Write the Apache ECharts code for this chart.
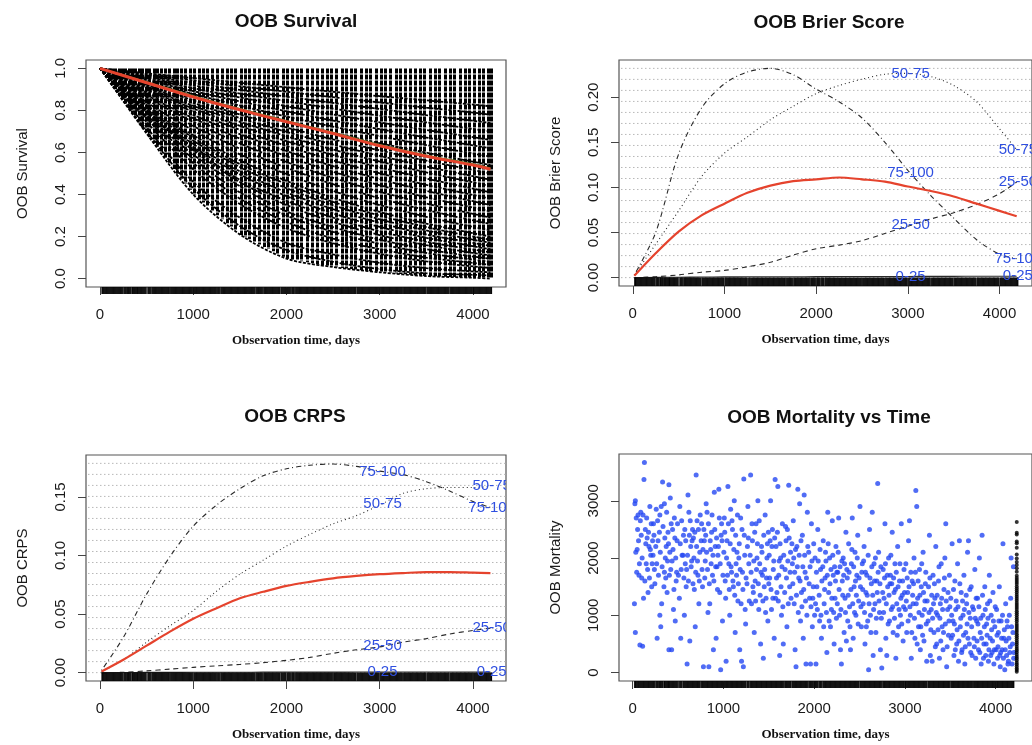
<!DOCTYPE html>
<html><head><meta charset="utf-8">
<script src="https://cdn.jsdelivr.net/npm/echarts@6/dist/echarts.min.js"></script>
<style>html,body{margin:0;padding:0;background:#fff}#c{width:1032px;height:745px}</style>
</head><body><div id="c"></div>
<script>
// ---------- tick labels ----------
const xTicks = [0, 1000, 2000, 3000, 4000];
const survYTicks = [0, 0.2, 0.4, 0.6, 0.8, 1.0];
const brierYTicks = [0, 0.05, 0.10, 0.15, 0.20];
const crpsYTicks = [0, 0.05, 0.10, 0.15];
const mortYTicks = [0, 1000, 2000, 3000];
const quartileNames = ['0-25', '25-50', '50-75', '75-100'];
const labelTimes = [3030, 4200];

// ---------- OOB survival ----------
const survT = [0, 500, 1000, 1500, 2000, 2500, 3000, 3500, 4000, 4187];
const survCurves = [
  [1, .977, .954, .932, .910, .889, .868, .848, .828, .82],
  [1, .971, .943, .915, .889, .863, .838, .813, .790, .78],
  [1, .965, .931, .898, .866, .836, .807, .778, .751, .74],
  [1, .958, .919, .880, .844, .809, .775, .743, .712, .70],
  [1, .952, .906, .862, .820, .781, .743, .707, .673, .66],
  [1, .945, .892, .843, .796, .752, .711, .671, .634, .62],
  [1, .937, .878, .823, .771, .723, .678, .635, .595, .58],
  [1, .929, .864, .803, .746, .693, .644, .599, .556, .54],
  [1, .921, .848, .781, .719, .662, .610, .561, .517, .50],
  [1, .914, .836, .764, .698, .638, .584, .533, .487, .47],
  [1, .907, .822, .746, .677, .614, .557, .505, .458, .44],
  [1, .899, .809, .727, .654, .588, .529, .476, .428, .41],
  [1, .891, .794, .708, .631, .562, .501, .446, .398, .38],
  [1, .883, .779, .687, .607, .535, .473, .417, .368, .35],
  [1, .873, .763, .666, .582, .508, .444, .387, .338, .32],
  [1, .863, .745, .643, .555, .479, .413, .357, .308, .29],
  [1, .852, .726, .618, .527, .449, .382, .326, .277, .26],
  [1, .839, .705, .591, .497, .417, .350, .294, .246, .23],
  [1, .826, .682, .563, .465, .384, .317, .262, .216, .20],
  [1, .82, .67, .545, .45, .365, .30, .245, .20, .185],
  [1, .810, .656, .531, .430, .349, .282, .229, .185, .17],
  [1, .80, .64, .51, .41, .33, .265, .21, .17, .155],
  [1, .791, .627, .496, .392, .310, .246, .194, .154, .14],
  [1, .80, .62, .47, .37, .29, .225, .175, .138, .125],
  [1, .79, .61, .46, .35, .27, .207, .159, .122, .11],
  [1, .78, .59, .44, .32, .245, .185, .14, .105, .095],
  [1, .77, .57, .41, .30, .222, .165, .122, .090, .08],
  [1, .76, .55, .38, .27, .19, .14, .10, .075, .065],
  [1, .745, .52, .355, .24, .168, .118, .082, .058, .05],
  [1, .72, .46, .29, .17, .115, .075, .05, .034, .03],
  [1, .70, .43, .25, .135, .08, .045, .025, .018, .015],
  [1, .69, .40, .21, .095, .055, .03, .012, .004, 0]
];
const survMean = [1.0, 0.932, 0.864, 0.803, 0.746, 0.69, 0.632, 0.582, 0.54, 0.52];
const survKM   = [1.0, 0.936, 0.869, 0.808, 0.751, 0.695, 0.637, 0.587, 0.545, 0.525];
const stripeTimes = [95,130,160,200,235,270,310,340,380,420,455,490,530,575,610,650,700,740,790,830,870,910,960,1010,1060,1100,1150,1200,1260,1310,1360,1400,1450,1510,1560,1600,1650,1710,1760,1800,1850,1900,1960,2010,2060,2110,2160,2220,2270,2330,2380,2430,2480,2530,2590,2640,2690,2740,2800,2850,2900,2960,3010,3060,3110,3170,3220,3270,3320,3380,3430,3480,3540,3590,3640,3700,3750,3800,3860,3910,3960,4010,4060,4110,4160,4190];

// ---------- Brier / CRPS ----------
const scoreT = [17, 250, 500, 750, 1000, 1250, 1500, 1750, 2000, 2250, 2500, 2750, 3000, 3250, 3500, 3750, 4000, 4187];
const brierAll   = [0.002, 0.027, 0.051, 0.069, 0.082, 0.094, 0.102, 0.107, 0.109, 0.111, 0.109, 0.1065, 0.101, 0.096, 0.090, 0.082, 0.074, 0.068];
const brier0_25  = [0.0, 0.0003, 0.0005, 0.0007, 0.0008, 0.0009, 0.001, 0.001, 0.0011, 0.0012, 0.0012, 0.0013, 0.0013, 0.0014, 0.0014, 0.0015, 0.0015, 0.0016];
const brier25_50 = [0.0, 0.001, 0.003, 0.006, 0.008, 0.012, 0.017, 0.025, 0.032, 0.036, 0.041, 0.049, 0.057, 0.065, 0.072, 0.081, 0.093, 0.106];
const brier50_75 = [0.003, 0.037, 0.074, 0.112, 0.138, 0.156, 0.175, 0.190, 0.204, 0.213, 0.220, 0.2255, 0.2265, 0.223, 0.213, 0.195, 0.165, 0.142];
const brier75_100= [0.003, 0.050, 0.137, 0.188, 0.215, 0.228, 0.232, 0.225, 0.209, 0.195, 0.177, 0.150, 0.119, 0.091, 0.066, 0.042, 0.026, 0.021];
const brierMax = 0.232;

const crpsAll    = [0.001, 0.011, 0.023, 0.035, 0.046, 0.055, 0.0635, 0.069, 0.074, 0.0775, 0.0805, 0.0825, 0.084, 0.085, 0.0858, 0.0858, 0.0853, 0.0849];
const crps0_25   = [0.0, 0.0001, 0.0002, 0.0002, 0.0003, 0.0003, 0.0003, 0.0004, 0.0004, 0.0004, 0.0004, 0.0005, 0.0005, 0.0005, 0.0005, 0.0005, 0.0006, 0.0006];
const crps25_50  = [0.0, 0.0003, 0.0015, 0.003, 0.0045, 0.0058, 0.007, 0.0085, 0.0105, 0.013, 0.0165, 0.0195, 0.022, 0.026, 0.029, 0.033, 0.036, 0.038];
const crps50_75  = [0.001, 0.011, 0.026, 0.040, 0.053, 0.0695, 0.084, 0.096, 0.108, 0.118, 0.127, 0.134, 0.143, 0.153, 0.157, 0.158, 0.158, 0.159];
const crps75_100 = [0.002, 0.030, 0.067, 0.099, 0.125, 0.143, 0.157, 0.168, 0.174, 0.177, 0.178, 0.176, 0.172, 0.169, 0.163, 0.155, 0.146, 0.141];
const crpsMax = 0.1786;

// ---------- OOB mortality ----------
const mortPoints = [
[30,3000],[25,2950],[40,2700],[20,1200],[30,700],[80,480],[110,460],[130,3670],[125,3370],[60,2750],[90,2800],[140,2500],[160,2350],[180,2200],[200,2050],[70,1700],[100,1650],[150,1900],[210,1500],[230,2600],[190,2900],[50,2150],[120,1300],[170,1400],[240,1800],[220,2300],
[260,2850],[280,2300],[300,2750],[330,3330],[350,2950],[370,2200],[400,3280],[410,2100],[420,1800],[440,2500],[460,2700],[480,1600],[300,1000],[320,1200],[350,1750],[380,1400],[400,400],[430,400],[450,1100],[470,900],[490,2300],[270,600],[310,800],[360,2000],[390,2450],[415,3050],
[520,2900],[540,2650],[560,2400],[580,1900],[600,150],[610,3100],[620,2800],[640,2200],[660,2500],[680,1450],[700,3450],[710,2650],[720,1700],[740,2100],[515,1300],[530,600],[570,1000],[590,1500],[630,550],[650,1950],[670,2350],[690,800],[730,1200],[745,2750],[555,2050],
[760,2600],[780,100],[790,2300],[800,1950],[820,2800],[840,100],[850,1200],[870,2450],[880,1700],[900,3150],[910,2200],[920,600],[940,2050],[950,3200],[960,1400],[970,50],[980,2600],[990,900],[770,1500],[810,2950],[830,1050],[860,2150],[890,400],[930,1850],[975,2400],
[1010,2700],[1020,1600],[1030,200],[1040,2300],[1050,3250],[1060,1900],[1070,1000],[1080,2850],[1100,2500],[1110,1500],[1120,3000],[1130,700],[1150,2100],[1160,1250],[1170,2000],[1180,400],[1190,2700],[1200,200],[1210,1750],[1220,100],[1225,3380],[1230,2400],[1240,1100],[1245,850],[1090,1750],[1140,1900],
[1260,1550],[1270,2900],[1280,1900],[1300,3450],[1310,1200],[1320,2300],[1340,700],[1350,1600],[1360,2600],[1380,3000],[1390,1100],[1400,1900],[1410,500],[1420,2200],[1440,250],[1450,1500],[1460,2750],[1470,1300],[1480,2000],[1490,900],[1265,2200],[1330,1400],[1370,2000],[1430,1700],[1495,2450],
[1510,1650],[1520,3000],[1530,1100],[1540,2500],[1550,1800],[1560,600],[1570,3370],[1580,2200],[1590,1400],[1600,3250],[1610,1700],[1620,300],[1630,2000],[1640,1000],[1650,2600],[1660,500],[1680,1800],[1690,2300],[1700,800],[1720,3270],[1730,1500],[1740,2100],[1515,2300],[1575,1300],[1705,2500],
[1760,1900],[1770,2650],[1780,1200],[1790,400],[1800,100],[1810,2200],[1820,3200],[1830,1650],[1840,2950],[1850,900],[1860,1400],[1870,2400],[1880,600],[1890,3100],[1900,1750],[1910,150],[1920,1000],[1940,2100],[1950,1300],[1960,150],[1970,2600],[1980,800],[1990,1500],[1775,2000],[1925,2800],
[2005,1000],[2010,2000],[2020,150],[2030,1500],[2040,2500],[2060,900],[2070,1800],[2080,600],[2100,2300],[2110,1200],[2120,1650],[2140,350],[2150,2800],[2160,1400],[2170,2000],[2180,800],[2190,1100],[2200,2650],[2210,1700],[2220,500],[2230,1300],[2240,2200],[2245,950],[2015,1200],[2125,2100],
[2260,1750],[2270,2700],[2280,1000],[2290,400],[2300,150],[2310,1600],[2320,2000],[2330,700],[2340,1300],[2350,2450],[2360,1800],[2370,900],[2380,2250],[2390,1150],[2400,400],[2410,1900],[2420,2700],[2430,600],[2440,1500],[2450,2100],[2460,1000],[2470,1700],[2480,2400],[2490,1250],[2355,550],
[2505,2900],[2510,1500],[2520,800],[2530,1900],[2540,1200],[2550,2200],[2560,500],[2570,1400],[2580,1700],[2590,900],[2600,50],[2610,2500],[2620,1000],[2630,1550],[2640,2800],[2650,300],[2660,1900],[2670,1200],[2680,700],[2690,1600],[2700,3300],[2710,2100],[2720,1050],[2730,400],[2745,80],
[2760,1800],[2770,1300],[2780,2600],[2790,600],[2800,300],[2810,1500],[2820,2000],[2830,900],[2840,1700],[2850,1100],[2860,2450],[2870,700],[2880,1400],[2890,1900],[2900,250],[2910,1200],[2920,2200],[2930,800],[2940,1600],[2950,1000],[2960,2600],[2970,1350],[2980,550],[2990,1800],[2855,1550],
[3005,1100],[3010,1900],[3020,700],[3030,1400],[3040,2300],[3050,2650],[3060,1000],[3070,250],[3080,1600],[3090,1200],[3100,2000],[3110,600],[3120,3180],[3130,2900],[3140,1300],[3150,800],[3160,1800],[3170,400],[3180,1500],[3190,1000],[3200,2100],[3210,550],[3220,1250],[3230,1750],[3240,200],
[3255,900],[3260,1500],[3270,2400],[3280,300],[3290,1100],[3300,200],[3310,1700],[3320,700],[3330,1300],[3340,2200],[3350,500],[3360,1000],[3370,1600],[3380,250],[3390,1200],[3400,1900],[3410,800],[3420,400],[3430,1450],[3440,2000],[3450,2600],[3460,100],[3470,1100],[3480,650],[3490,1700],
[3505,1300],[3510,600],[3520,2250],[3530,900],[3540,300],[3550,1600],[3560,1100],[3570,500],[3580,1900],[3590,200],[3600,2300],[3610,800],[3620,1400],[3630,400],[3640,1000],[3650,1700],[3660,150],[3670,700],[3680,1200],[3690,2100],[3700,2300],[3710,500],[3720,950],[3730,1500],[3740,300],
[3755,1100],[3760,600],[3770,1800],[3780,250],[3790,900],[3800,1300],[3810,400],[3820,2000],[3830,700],[3840,150],[3850,2400],[3860,1000],[3870,500],[3880,1500],[3890,300],[3900,850],[3910,1200],[3920,200],[3930,1700],[3940,600],[3950,1000],[3960,350],[3970,1400],[3980,150],[3990,800],
[4005,400],[4010,1100],[4020,250],[4030,700],[4040,1500],[4050,100],[4060,900],[4070,400],[4080,2250],[4090,600],[4100,50],[4110,1200],[4120,300],[4130,800],[4140,200],[4150,1000],[4160,450],[4170,2000],[4180,150],[4190,700],[4200,350],[4045,300],[4115,550],[4165,1300],[4195,1850],
[35,2100],[45,1750],[55,2500],[65,2300],[75,1900],[85,2650],[95,2400],[105,2000],[115,2750],[135,1600],[145,2250],[155,2700],[165,1800],[175,2450],[185,1650],[195,2150],[205,2600],[215,1900],[225,2050],[235,2400],[245,1550],[255,2200],[265,1900],[275,2650],[285,1700],[295,2450],[305,2100],[315,2900],[325,1850],[335,2550],[345,1500],[355,2350],[365,1650],[375,2800],[385,1950],[395,2250],[405,1700],[425,2600],[435,1950],[445,2150],[455,1450],[465,2350],[475,2000],[485,1750],[495,2600],
[505,1700],[525,2250],[535,1800],[545,2050],[565,1650],[575,2500],[585,2300],[595,1800],[605,2050],[615,1600],[625,2400],[635,2650],[645,1850],[655,2300],[665,1550],[675,2000],[685,2450],[695,1750],[705,2200],[715,1950],[725,2500],[735,1600],[755,2300],[765,1800],[775,2150],[785,2500],[795,1650],[805,2400],[815,2100],[825,1800],[835,2600],[845,1550],[855,2300],[865,1900],[875,2750],[885,2050],[895,1600],[905,2500],[915,1850],[925,2350],[935,1450],[945,2200],[955,2700],[965,1900],[985,2300],[995,1700],
[1005,2100],[1015,2450],[1025,1300],[1035,2000],[1045,1700],[1055,2600],[1065,1450],[1075,2250],[1085,1850],[1095,2650],[1105,1600],[1115,2150],[1125,1350],[1135,2400],[1145,1700],[1155,2750],[1165,1550],[1175,2250],[1185,1800],[1195,1200],[1205,2500],[1215,1450],[1235,2050],[1250,1650],[1275,2350],[1285,1250],[1295,2050],[1305,1750],[1315,2600],[1325,1500],[1335,1950],[1345,2450],[1355,1250],[1365,1800],[1375,2250],[1385,1550],[1395,2650],[1405,1350],[1415,1750],[1425,2100],[1435,1250],[1445,2400],[1455,1800],[1465,1050],[1475,1650],[1485,2250],[1500,1550],
[1505,2050],[1525,1450],[1535,2200],[1545,1300],[1555,1950],[1565,2350],[1585,1650],[1595,2450],[1605,1250],[1615,1950],[1625,2250],[1635,1500],[1645,1850],[1655,1150],[1665,2050],[1675,1400],[1685,2550],[1695,1650],[1710,1950],[1715,1200],[1725,2350],[1735,1750],[1745,1300],[1755,2250],[1765,1550],[1785,1750],[1795,2150],[1805,1350],[1815,1850],[1825,1050],[1835,2050],[1845,1600],[1855,2300],[1865,1150],[1875,1850],[1885,1450],[1895,2050],[1905,1250],[1915,1650],[1930,2200],[1945,1550],[1955,1850],[1965,1150],[1975,1950],[1985,1300],[1995,2250],
[2025,1750],[2035,1100],[2045,1950],[2055,1350],[2065,2150],[2075,1000],[2085,1600],[2095,1850],[2105,800],[2115,1450],[2130,1950],[2135,1050],[2145,1700],[2155,2250],[2165,900],[2175,1550],[2185,1800],[2195,1300],[2205,2050],[2215,1050],[2225,1850],[2235,1600],[2250,1750],[2255,1200],[2265,2100],[2275,1450],[2285,1850],[2295,1100],[2305,1950],[2315,1350],[2325,1700],[2335,1900],[2345,1050],[2365,1650],[2375,1350],[2385,1750],[2395,800],[2405,1450],[2415,2150],[2425,1200],[2435,1850],[2445,1050],[2455,1600],[2465,1350],[2475,2000],[2485,850],[2495,1650],
[2515,1150],[2525,1750],[2535,1450],[2545,1950],[2555,1050],[2565,1750],[2575,800],[2585,1350],[2595,2050],[2605,1200],[2615,1650],[2625,700],[2635,1850],[2645,1350],[2655,1100],[2665,1600],[2675,2000],[2685,950],[2695,1400],[2705,1750],[2715,1250],[2725,1550],[2735,1850],[2740,950],[2755,1400],[2765,1050],[2775,1650],[2785,1900],[2795,1200],[2805,1700],[2815,850],[2825,1350],[2835,1550],[2845,2050],[2865,1150],[2875,1650],[2885,950],[2895,1450],[2905,1750],[2915,650],[2925,1500],[2935,1100],[2945,1900],[2955,1300],[2965,850],[2975,1600],[2985,1150],[2995,1400],
[3015,1250],[3025,1650],[3035,900],[3045,1500],[3055,1150],[3065,1750],[3075,700],[3085,1350],[3095,1550],[3105,950],[3115,1750],[3125,1200],[3135,500],[3145,1600],[3155,1050],[3165,1350],[3175,800],[3185,1900],[3195,650],[3205,1400],[3215,1100],[3225,1550],[3235,850],[3245,1250],[3265,1050],[3275,1650],[3285,750],[3295,1350],[3305,950],[3315,1200],[3325,1550],[3335,450],[3345,1050],[3355,1350],[3365,750],[3375,1850],[3385,950],[3395,550],[3405,1300],[3415,1100],[3425,700],[3435,1650],[3445,850],[3455,1250],[3465,450],[3475,1400],[3485,900],[3495,1150],
[3515,1000],[3525,650],[3535,1450],[3545,850],[3555,400],[3565,1250],[3575,750],[3585,1150],[3595,550],[3605,1550],[3615,950],[3625,350],[3635,1250],[3645,650],[3655,1100],[3665,450],[3675,1350],[3685,850],[3695,600],[3705,1050],[3715,1450],[3725,350],[3735,800],[3745,1150],[3765,450],[3775,950],[3785,1300],[3795,550],[3805,850],[3815,1150],[3825,350],[3835,950],[3845,600],[3855,1350],[3865,250],[3875,800],[3885,1100],[3895,500],[3905,650],[3915,950],[3925,400],[3935,1250],[3945,300],[3955,750],[3965,550],[3975,900],[3985,400],[3995,1150],
[4015,650],[4025,450],[4035,900],[4055,350],[4065,600],[4075,1000],[4085,250],[4095,750],[4105,400],[4125,900],[4135,150],[4145,600],[4155,350],[4175,800],[4185,500],[4198,250]
];
const censorTime = 4232;
const censorMort = [15,45,70,105,140,170,210,245,275,310,350,385,415,450,490,525,560,600,635,670,710,745,780,815,850,890,925,960,1000,1035,1070,1110,1145,1180,1215,1255,1290,1325,1360,1400,1435,1470,1505,1545,1580,1615,1650,1690,1760,1820,1880,1930,1990,2060,2180,2260,2290,2410,2440,2630];

// ---------- helpers ----------
function interp(ts, vs, x) {
  if (x <= ts[0]) return vs[0];
  for (let i = 1; i < ts.length; i++) {
    if (x <= ts[i]) { const f = (x - ts[i-1]) / (ts[i] - ts[i-1]); return vs[i-1] + f * (vs[i] - vs[i-1]); }
  }
  return vs[vs.length - 1];
}
function pairs(ts, vs) { return ts.map((t, i) => [t, vs[i]]); }
function survLowAt(t) { return Math.min(...survCurves.map(c => interp(survT, c, t))); }
const obsTimes = mortPoints.map(p => p[0]);

const SANS = '"Liberation Sans", Arial, sans-serif';
const TXT = '#1a1a1a';

function xAx(gi, max) {
  return {
    type: 'value', gridIndex: gi, min: -150, max: max,
    axisLine: { show: false, onZero: false }, splitLine: { show: false },
    axisTick: { show: true, length: 8, customValues: xTicks, lineStyle: { color: '#444' } },
    axisLabel: { customValues: xTicks, margin: 20, fontSize: 15, color: TXT, fontFamily: SANS, formatter: v => String(v) },
    name: 'Observation time, days', nameLocation: 'middle', nameGap: 47,
    nameTextStyle: { fontFamily: '"Liberation Serif", serif', fontWeight: 'bold', fontSize: 13, color: '#111' }
  };
}
function yAx(gi, min, max, ticks, dec, name) {
  return {
    type: 'value', gridIndex: gi, min: min, max: max,
    axisLine: { show: false, onZero: false }, splitLine: { show: false },
    axisTick: { show: true, length: 8, customValues: ticks, lineStyle: { color: '#444' } },
    axisLabel: { customValues: ticks, rotate: 90, margin: 18, fontSize: 15, color: TXT, fontFamily: SANS,
      formatter: v => v.toFixed(dec) },
    name: name, nameLocation: 'middle', nameGap: 56, nameRotate: 90,
    nameTextStyle: { fontFamily: SANS, fontSize: 15, color: TXT }
  };
}
function rugSeries(gi, inside) {
  return {
    type: 'custom', xAxisIndex: gi, yAxisIndex: gi, clip: false, silent: true, z: 6,
    data: obsTimes.map(t => [t, 0]), encode: { x: 0, y: 1 },
    renderItem: (params, api) => {
      const cs = params.coordSys;
      const x = api.coord([api.value(0), 0])[0];
      const yb = cs.y + cs.height;
      const y1 = inside ? api.coord([0, 0])[1] : yb;
      const y2 = inside ? yb : yb + 7;
      return { type: 'line', shape: { x1: x, y1: y1, x2: x, y2: y2 }, style: { stroke: '#000', lineWidth: 0.8 } };
    }
  };
}
function gridLineSeries(gi, maxV) {
  const levels = [];
  for (let i = 0; i < 20; i++) levels.push([0, maxV * i / 19]);
  return {
    type: 'custom', xAxisIndex: gi, yAxisIndex: gi, silent: true, z: 1, data: levels, encode: { x: 0, y: 1 },
    renderItem: (params, api) => {
      const cs = params.coordSys;
      const y = api.coord([0, api.value(1)])[1];
      return { type: 'line', shape: { x1: cs.x + 2, y1: y, x2: cs.x + cs.width, y2: y },
        style: { stroke: '#b8b8b8', lineWidth: 1, lineDash: [1.5, 2.5] } };
    }
  };
}
const qDash = ['solid', [5, 4], [1, 3], [1, 3, 5, 3]];
function quartileLines(gi, arrays) {
  return arrays.map((vs, qi) => ({
    type: 'line', xAxisIndex: gi, yAxisIndex: gi, data: pairs(scoreT, vs), showSymbol: false, symbol: 'none',
    smooth: 0.3, silent: true, z: 3, lineStyle: { color: '#2a2a2a', width: 1.1, type: qDash[qi] }
  }));
}
function labelSeries(gi, arrays) {
  const items = [], texts = [];
  arrays.forEach((vs, qi) => labelTimes.forEach(t => { items.push([t, interp(scoreT, vs, t)]); texts.push(quartileNames[qi]); }));
  return {
    type: 'custom', xAxisIndex: gi, yAxisIndex: gi, clip: true, silent: true, z: 10, data: items, encode: { x: 0, y: 1 },
    renderItem: (params, api) => {
      const p = api.coord([api.value(0), api.value(1)]);
      return { type: 'text', x: p[0], y: p[1],
        style: { text: texts[params.dataIndex], fill: '#2f4fe0', font: '15px ' + SANS, align: 'center', verticalAlign: 'middle' } };
    }
  };
}
function redLine(gi, ts, vs, w) {
  return { type: 'line', xAxisIndex: gi, yAxisIndex: gi, data: pairs(ts, vs), showSymbol: false, symbol: 'none',
    smooth: 0.3, silent: true, z: 5, lineStyle: { color: '#e5432d', width: w } };
}

const brierQ = [brier0_25, brier25_50, brier50_75, brier75_100];
const crpsQ = [crps0_25, crps25_50, crps50_75, crps75_100];

const series = [];
// panel 1
series.push({
  type: 'custom', xAxisIndex: 0, yAxisIndex: 0, silent: true, z: 2,
  data: stripeTimes.map(t => [t, 1]), encode: { x: 0, y: 1 },
  renderItem: (params, api) => {
    const t = api.value(0);
    const p1 = api.coord([t, 1]);
    const p2 = api.coord([t, survLowAt(t)]);
    return { type: 'line', shape: { x1: Math.round(p1[0]) + 0.5, y1: p1[1], x2: Math.round(p2[0]) + 0.5, y2: p2[1] },
      style: { stroke: '#000', lineWidth: 3, lineDash: [5, 1] } };
  }
});
survCurves.forEach(c => series.push({
  type: 'line', xAxisIndex: 0, yAxisIndex: 0, data: pairs(survT, c), showSymbol: false, symbol: 'none',
  smooth: 0.3, silent: true, z: 2, lineStyle: { color: '#000', width: 1.8, type: [3, 1.5] }
}));
series.push({ type: 'line', xAxisIndex: 0, yAxisIndex: 0, data: pairs(survT, survKM), showSymbol: false, symbol: 'none',
  smooth: 0.3, silent: true, z: 4, lineStyle: { color: '#4e8c2e', width: 1.5 } });
series.push(redLine(0, survT, survMean, 3));
series.push(rugSeries(0, false));
// panel 2
series.push(gridLineSeries(1, brierMax));
quartileLines(1, brierQ).forEach(s => series.push(s));
series.push(redLine(1, scoreT, brierAll, 2.2));
series.push(rugSeries(1, true));
series.push(labelSeries(1, brierQ));
// panel 3
series.push(gridLineSeries(2, crpsMax));
quartileLines(2, crpsQ).forEach(s => series.push(s));
series.push(redLine(2, scoreT, crpsAll, 2.2));
series.push(rugSeries(2, true));
series.push(labelSeries(2, crpsQ));
// panel 4
series.push({ type: 'scatter', xAxisIndex: 3, yAxisIndex: 3, data: mortPoints, symbolSize: 5, silent: true, z: 3,
  itemStyle: { color: '#2447f2' } });
series.push({ type: 'scatter', xAxisIndex: 3, yAxisIndex: 3, data: censorMort.map(v => [censorTime, v]), symbolSize: 4,
  silent: true, z: 4, itemStyle: { color: '#000' } });
series.push(rugSeries(3, false));

const gridStyle = { show: true, borderColor: '#555', borderWidth: 1.2, backgroundColor: 'transparent' };
const chart = echarts.init(document.getElementById('c'), null, { renderer: 'canvas' });
chart.setOption({
  animation: false,
  backgroundColor: '#fff',
  grid: [
    Object.assign({ left: 86, top: 60, width: 420, height: 227 }, gridStyle),
    Object.assign({ left: 619, top: 60, width: 418, height: 226 }, gridStyle),
    Object.assign({ left: 86, top: 455, width: 420, height: 226 }, gridStyle),
    Object.assign({ left: 619, top: 454, width: 421, height: 227 }, gridStyle)
  ],
  xAxis: [xAx(0, 4354), xAx(1, 4354), xAx(2, 4354), xAx(3, 4400)],
  yAxis: [
    yAx(0, -0.04, 1.04, survYTicks, 1, 'OOB Survival'),
    yAx(1, -0.04 * brierMax, 1.04 * brierMax, brierYTicks, 2, 'OOB Brier Score'),
    yAx(2, -0.04 * crpsMax, 1.04 * crpsMax, crpsYTicks, 2, 'OOB CRPS'),
    yAx(3, -146.8, 3816.8, mortYTicks, 0, 'OOB Mortality')
  ],
  graphic: [
    { type: 'text', x: 296, y: 22, style: { text: 'OOB Survival', font: 'bold 19px ' + SANS, fill: '#111', align: 'center', verticalAlign: 'middle' } },
    { type: 'text', x: 829, y: 23, style: { text: 'OOB Brier Score', font: 'bold 19px ' + SANS, fill: '#111', align: 'center', verticalAlign: 'middle' } },
    { type: 'text', x: 295, y: 417, style: { text: 'OOB CRPS', font: 'bold 19px ' + SANS, fill: '#111', align: 'center', verticalAlign: 'middle' } },
    { type: 'text', x: 829, y: 418, style: { text: 'OOB Mortality vs Time', font: 'bold 19px ' + SANS, fill: '#111', align: 'center', verticalAlign: 'middle' } }
  ],
  series: series
});
</script>
</body></html>
